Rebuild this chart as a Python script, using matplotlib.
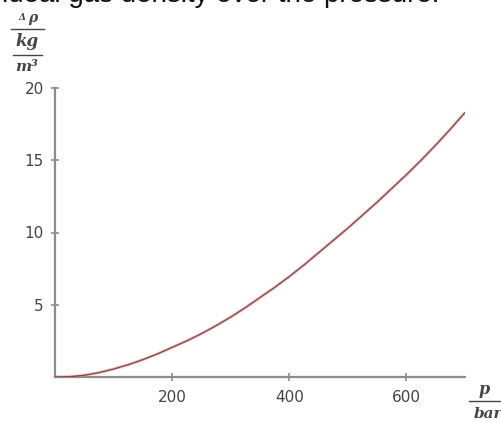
import matplotlib.pyplot as plt
from matplotlib.lines import Line2D

# density difference (real - ideal gas) against pressure
pressure_bar = [0, 25, 50, 75, 100, 125, 150, 175, 200, 225, 250, 275, 300, 325,
                350, 375, 400, 425, 450, 475, 500, 525, 550, 575, 600, 625, 650,
                675, 700]
delta_rho = [0.0, 0.02, 0.12, 0.3, 0.55, 0.85, 1.2, 1.6, 2.05, 2.5, 3.0, 3.55,
             4.15, 4.8, 5.5, 6.2, 6.95, 7.75, 8.6, 9.45, 10.3, 11.2, 12.1, 13.05,
             14.0, 15.0, 16.05, 17.15, 18.3]

x_ticks = [200, 400, 600]
y_ticks = [5, 10, 15, 20]

AXIS = "#8c8c8c"
TEXT = "#444444"
CURVE = "#8a4646"

fig = plt.figure(figsize=(5.02, 4.25), dpi=100)
ax = fig.add_axes([55 / 502, 1 - 377 / 425, 410 / 502, 289 / 425])

ax.plot(pressure_bar, delta_rho, color="#e8a0a0", linewidth=2.4, alpha=0.5,
        solid_capstyle="butt", zorder=3)
ax.plot(pressure_bar, delta_rho, color=CURVE, linewidth=1.0, zorder=4)

ax.set_xlim(0, 700)
ax.set_ylim(0, 20)
ax.set_xticks(x_ticks)
ax.set_yticks(y_ticks)

for side in ("top", "right"):
    ax.spines[side].set_visible(False)
for side in ("left", "bottom"):
    ax.spines[side].set_color(AXIS)
    ax.spines[side].set_linewidth(1.6)

ax.tick_params(direction="inout", length=6, width=1.2, color=AXIS,
               labelcolor=TEXT, labelsize=11)
ax.tick_params(axis="x", pad=6)
ax.tick_params(axis="y", pad=5)

# title line, running off the top edge
fig.text(2 / 502, 1 - 1.5 / 425, "ideal gas density over the pressure.",
         fontsize=20, family="Liberation Sans", color="#111111",
         ha="left", va="baseline")

serif = dict(family="DejaVu Serif", style="italic", weight="bold", color=TEXT,
             va="center")

# stacked y-axis unit label
fig.text(22 / 502, 1 - 18 / 425, "Δ", fontsize=6.5, ha="center", **serif)
fig.text(33 / 502, 1 - 18 / 425, "ρ", fontsize=10, ha="center", **serif)
fig.add_artist(Line2D([11 / 502, 44 / 502], [1 - 29 / 425] * 2,
                      color=TEXT, linewidth=1.0, transform=fig.transFigure))
fig.text(27 / 502, 1 - 41 / 425, "kg", fontsize=12, ha="center", **serif)
fig.add_artist(Line2D([13 / 502, 42 / 502], [1 - 55 / 425] * 2,
                      color=TEXT, linewidth=1.0, transform=fig.transFigure))
fig.text(27 / 502, 1 - 67 / 425, "m³", fontsize=11, ha="center", **serif)

# stacked x-axis unit label
fig.text(484 / 502, 1 - 389 / 425, "p", fontsize=11.5, ha="center", **serif)
fig.add_artist(Line2D([469 / 502, 1.0], [1 - 401 / 425] * 2,
                      color=TEXT, linewidth=1.0, transform=fig.transFigure))
fig.text(488 / 502, 1 - 414 / 425, "bar", fontsize=11, ha="center", **serif)

fig.savefig("out.png", dpi=100)
